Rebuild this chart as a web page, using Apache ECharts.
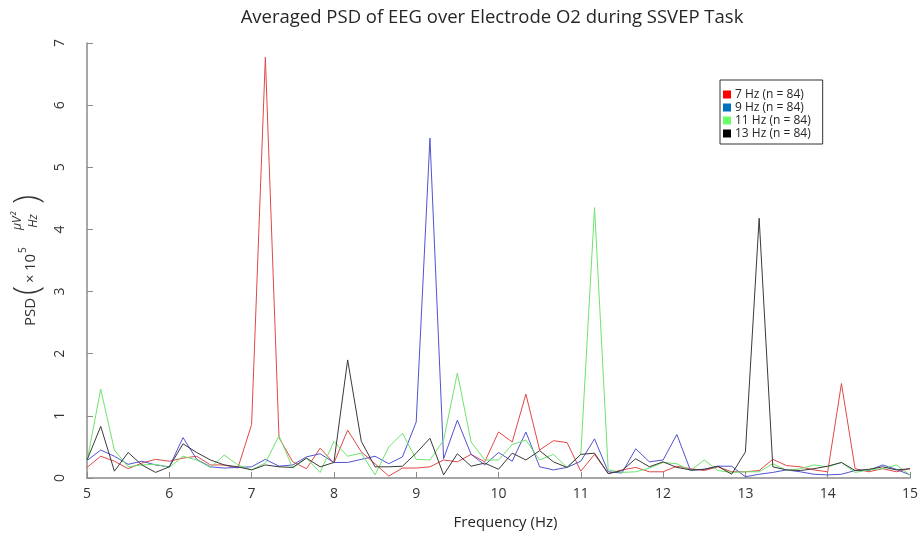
<!DOCTYPE html>
<html>
<head>
<meta charset="utf-8">
<script src="https://cdn.jsdelivr.net/npm/echarts@6/dist/echarts.min.js"></script>
<style>
html,body{margin:0;padding:0;background:#fff;}
#main{width:922px;height:537px;}
</style>
</head>
<body>
<div id="main"></div>
<script>
// Frequencies (Hz)
var freqs = [5.000,5.167,5.333,5.500,5.667,5.833,6.000,6.167,6.333,6.500,6.667,6.833,
  7.000,7.167,7.333,7.500,7.667,7.833,8.000,8.167,8.333,8.500,8.667,8.833,
  9.000,9.167,9.333,9.500,9.667,9.833,10.000,10.167,10.333,10.500,10.667,10.833,
  11.000,11.167,11.333,11.500,11.667,11.833,12.000,12.167,12.333,12.500,12.667,12.833,
  13.000,13.167,13.333,13.500,13.667,13.833,14.000,14.167,14.333,14.500,14.667,14.833,15.000];

var seriesNames = ['7 Hz (n = 84)', '9 Hz (n = 84)', '11 Hz (n = 84)', '13 Hz (n = 84)'];

var psd7 = [0.17,0.35,0.27,0.15,0.24,0.30,0.27,0.32,0.35,0.21,0.21,
  0.16,0.86,6.77,0.65,0.26,0.15,0.48,0.24,0.77,0.42,
  0.23,0.03,0.16,0.16,0.18,0.29,0.26,0.38,0.26,0.74,
  0.58,1.35,0.45,0.60,0.57,0.11,0.38,0.07,0.13,0.17,
  0.10,0.10,0.19,0.15,0.12,0.18,0.10,0.10,0.12,0.30,
  0.20,0.18,0.13,0.10,1.52,0.15,0.10,0.15,0.10,0.15];

var psd9 = [0.28,0.45,0.35,0.22,0.27,0.21,0.18,0.65,0.30,0.18,0.16,
  0.17,0.18,0.30,0.19,0.21,0.34,0.39,0.25,0.25,0.30,
  0.35,0.23,0.34,0.90,5.47,0.31,0.93,0.38,0.21,0.41,
  0.27,0.74,0.18,0.13,0.17,0.27,0.63,0.10,0.08,0.47,
  0.26,0.29,0.70,0.12,0.14,0.19,0.19,0.02,0.06,0.09,
  0.13,0.10,0.06,0.05,0.06,0.12,0.12,0.21,0.14,0.05];

var psd11 = [0.27,1.43,0.45,0.18,0.21,0.22,0.17,0.35,0.29,0.17,0.37,
  0.21,0.13,0.24,0.68,0.16,0.32,0.09,0.59,0.35,0.40,
  0.05,0.50,0.72,0.30,0.29,0.61,1.69,0.58,0.29,0.29,
  0.54,0.61,0.29,0.38,0.17,0.38,4.35,0.13,0.09,0.10,
  0.16,0.25,0.23,0.12,0.29,0.12,0.09,0.10,0.10,0.23,
  0.12,0.15,0.21,0.18,0.25,0.09,0.13,0.15,0.21,0.05];

var psd13 = [0.29,0.83,0.11,0.41,0.21,0.09,0.18,0.55,0.41,0.29,0.21,
  0.18,0.13,0.21,0.18,0.17,0.32,0.18,0.25,1.90,0.59,
  0.18,0.18,0.19,0.40,0.64,0.05,0.39,0.19,0.24,0.14,
  0.40,0.29,0.44,0.26,0.17,0.38,0.40,0.07,0.12,0.31,
  0.18,0.26,0.17,0.13,0.14,0.19,0.06,0.42,4.18,0.18,
  0.13,0.12,0.15,0.19,0.25,0.12,0.14,0.18,0.13,0.15];

var lineColors = ['#e04848', '#5252d2', '#6ee46e', '#3a3a3a'];
var legendColors = ['#ff0000', '#0070c0', '#66ff66', '#000000'];
var allValues = [psd7, psd9, psd11, psd13];

function pairs(vals) {
  return freqs.map(function (f, i) { return [f, vals[i]]; });
}

var FONT = 'Open Sans';
var chart = echarts.init(document.getElementById('main'), null, {renderer: 'canvas'});

var series = allValues.map(function (vals, k) {
  return {
    name: seriesNames[k],
    type: 'line',
    data: pairs(vals),
    showSymbol: false,
    symbol: 'none',
    animation: false,
    lineStyle: {color: lineColors[k], width: 1},
    itemStyle: {color: legendColors[k]},
    z: 2 + k
  };
});

var option = {
  backgroundColor: '#ffffff',
  animation: false,
  title: {
    text: 'Averaged PSD of EEG over Electrode O2 during SSVEP Task',
    left: 487,
    top: 3,
    textAlign: 'center',
    textStyle: {fontFamily: FONT, fontSize: 18.5, fontWeight: 'normal', color: '#262626'}
  },
  legend: {
    orient: 'vertical',
    left: 720,
    top: 80,
    padding: [8, 12, 4, 3],
    itemGap: 0,
    itemWidth: 8,
    itemHeight: 8,
    itemStyle: {borderWidth: 0},
    borderColor: '#333333',
    borderWidth: 1,
    icon: 'rect',
    textStyle: {fontFamily: FONT, fontSize: 12, color: '#262626', lineHeight: 13, padding: [0, 0, 0, -1]},
    data: seriesNames.map(function (n, k) {
      return {name: n, icon: 'rect', itemStyle: {color: legendColors[k]}};
    })
  },
  grid: {left: 87, right: 12, top: 43, bottom: 59, containLabel: false},
  xAxis: {
    type: 'value',
    min: 5, max: 15, interval: 1,
    name: 'Frequency (Hz)',
    nameLocation: 'middle',
    nameGap: 37,
    nameTextStyle: {fontFamily: FONT, fontSize: 15, color: '#262626', padding: [0, 0, 0, 14]},
    axisLine: {show: true, lineStyle: {color: '#8a8a8a', width: 1.5}},
    axisTick: {show: true, inside: true, length: 6, lineStyle: {color: '#8a8a8a'}},
    axisLabel: {fontFamily: FONT, fontSize: 14, color: '#333333', margin: 9},
    splitLine: {show: false}
  },
  yAxis: {
    type: 'value',
    min: 0, max: 7, interval: 1,
    axisLine: {show: true, lineStyle: {color: '#8a8a8a', width: 1.5}},
    axisTick: {show: true, inside: true, length: 6, lineStyle: {color: '#8a8a8a'}},
    axisLabel: {fontFamily: FONT, fontSize: 14, color: '#333333', margin: 20, rotate: 90},
    splitLine: {show: false}
  },
  graphic: [{
    type: 'group',
    x: 37,
    y: 326,
    rotation: Math.PI / 2,
    silent: true,
    children: [
      {type: 'text', x: 0, y: -6, style: {text: 'PSD', font: '15px "Open Sans"', fill: '#333', verticalAlign: 'middle', align: 'left'}},
      {type: 'text', x: 31, y: -9, style: {text: '(', font: '300 34px "Open Sans"', fill: '#333', verticalAlign: 'middle', align: 'left'}},
      {type: 'text', x: 43, y: -6, style: {text: '\u00d7', font: '15px "Open Sans"', fill: '#333', verticalAlign: 'middle', align: 'left'}},
      {type: 'text', x: 55, y: -6, style: {text: '10', font: '15px "Open Sans"', fill: '#333', verticalAlign: 'middle', align: 'left'}},
      {type: 'text', x: 73, y: -14, style: {text: '5', font: '10px "Open Sans"', fill: '#333', verticalAlign: 'middle', align: 'left'}},
      {type: 'text', x: 105, y: -19, style: {text: '\u03bcV\u00b2', font: 'italic 12px "Open Sans"', fill: '#333', verticalAlign: 'middle', align: 'center'}},
      {type: 'text', x: 105, y: -3, style: {text: 'Hz', font: 'italic 12px "Open Sans"', fill: '#333', verticalAlign: 'middle', align: 'center'}},
      {type: 'text', x: 122, y: -9, style: {text: ')', font: '300 34px "Open Sans"', fill: '#333', verticalAlign: 'middle', align: 'left'}}
    ]
  }],
  series: series
};

chart.setOption(option);
</script>
</body>
</html>
